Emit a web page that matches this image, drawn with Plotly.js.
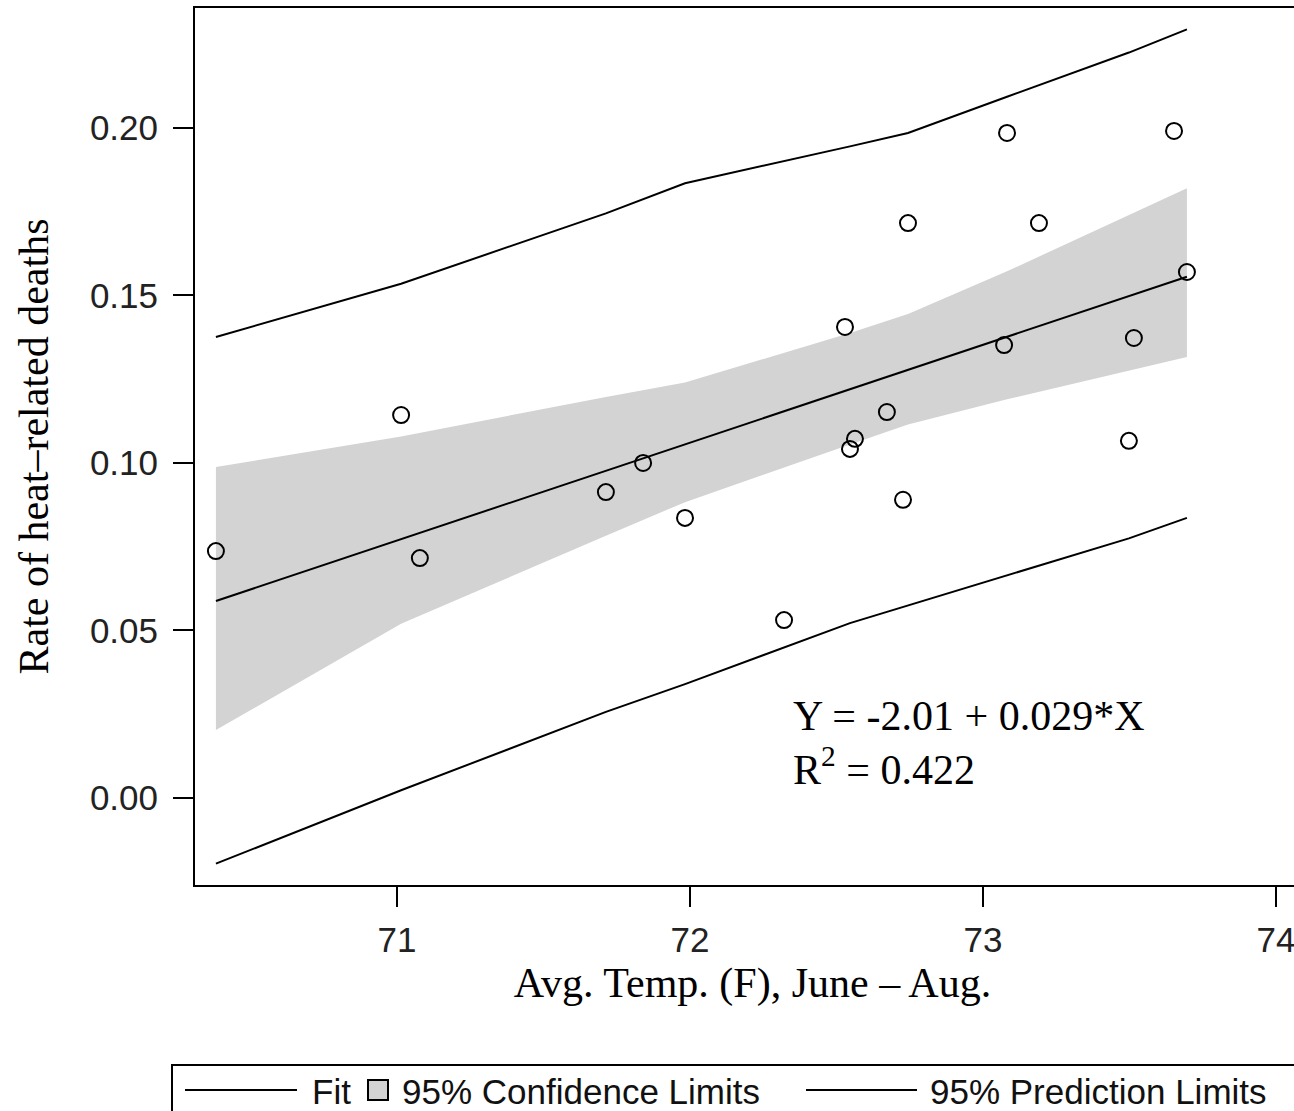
<!DOCTYPE html>
<html>
<head>
<meta charset="utf-8">
<script src="https://cdn.plot.ly/plotly-3.0.1.min.js"></script>
<style>
  html, body { margin: 0; padding: 0; background: #fff; overflow: hidden; }
  #chart { width: 1330px; height: 1111px; }
</style>
</head>
<body>
<div id="chart"></div>
<script>
// Observed points
const obsX = [70.382, 71.014, 71.078, 71.713, 71.840, 71.983, 72.321, 72.529, 72.546, 72.563,
              72.672, 72.727, 72.744, 73.072, 73.082, 73.191, 73.498, 73.515, 73.652, 73.696];
const obsY = [0.0737, 0.1143, 0.0716, 0.0913, 0.1000, 0.0836, 0.0531, 0.1406, 0.1042, 0.1072,
              0.1152, 0.0890, 0.1716, 0.1352, 0.1985, 0.1716, 0.1066, 0.1373, 0.1991, 0.1570];

// Fit line and limits (read at these x positions)
const bandX   = [70.382, 71.014, 71.713, 71.983, 72.546, 72.744, 73.082, 73.498, 73.696];
const fitY    = [0.0588, 0.0773, 0.0977, 0.1055, 0.1220, 0.1278, 0.1376, 0.1498, 0.1556];
const ciUpper = [0.0988, 0.1079, 0.1197, 0.1240, 0.1388, 0.1445, 0.1572, 0.1740, 0.1820];
const ciLower = [0.0203, 0.0520, 0.0783, 0.0883, 0.1055, 0.1115, 0.1190, 0.1275, 0.1316];
const piUpper = [0.1376, 0.1535, 0.1745, 0.1835, 0.1945, 0.1985, 0.2093, 0.2225, 0.2294];
const piLower = [-0.0196, 0.0023, 0.0257, 0.0340, 0.0522, 0.0575, 0.0665, 0.0775, 0.0836];

// Tick labels
const xTicks = [71, 72, 73, 74];
const xTickText = ['71', '72', '73', '74'];
const yTicks = [0.00, 0.05, 0.10, 0.15, 0.20];
const yTickText = ['0.00', '0.05', '0.10', '0.15', '0.20'];

const legendLabels = ['Fit', '95% Confidence Limits', '95% Prediction Limits'];
const eqLine1 = 'Y = -2.01 + 0.029*X';
const eqLine2 = 'R<sup>2</sup> = 0.422';

const SANS = '"Liberation Sans", Arial, sans-serif';
const SERIF = '"Liberation Serif", "Times New Roman", serif';

// layout geometry (pixels)
const W = 1330, H = 1111;
const ML = 195, MR = 20, MT = 8, MB = 226;
const PW = W - ML - MR, PH = H - MT - MB;
const px = v => (v - ML) / PW;          // pixel x -> paper
const py = v => (H - MB - v) / PH;      // pixel y -> paper

const traces = [
  { x: bandX, y: ciLower, type: 'scatter', mode: 'lines', line: { width: 0, color: 'rgba(0,0,0,0)' },
    hoverinfo: 'skip', showlegend: false },
  { x: bandX, y: ciUpper, type: 'scatter', mode: 'lines', fill: 'tonexty', fillcolor: '#d3d3d3',
    line: { width: 0, color: 'rgba(0,0,0,0)' }, showlegend: false, name: legendLabels[1] },
  { x: bandX, y: piUpper, type: 'scatter', mode: 'lines', line: { color: '#000', width: 2 },
    showlegend: false, name: legendLabels[2] },
  { x: bandX, y: piLower, type: 'scatter', mode: 'lines', line: { color: '#000', width: 2 },
    showlegend: false },
  { x: bandX, y: fitY, type: 'scatter', mode: 'lines', line: { color: '#000', width: 2 },
    showlegend: false, name: legendLabels[0] },
  { x: obsX, y: obsY, type: 'scatter', mode: 'markers',
    marker: { symbol: 'circle-open', size: 16, color: '#000', line: { width: 2, color: '#000' } },
    showlegend: false }
];

const layout = {
  width: W, height: H,
  margin: { l: ML, r: MR, t: MT, b: MB, pad: 0 },
  paper_bgcolor: '#fff', plot_bgcolor: '#fff',
  showlegend: false,
  xaxis: {
    range: [70.3106, 70.3106 + PW / 293],
    tickvals: xTicks, ticktext: xTickText,
    ticks: 'outside', ticklen: 20, tickwidth: 2, tickcolor: '#000',
    showline: true, linewidth: 2, linecolor: '#000', mirror: true,
    showgrid: false, zeroline: false,
    tickfont: { family: SANS, size: 35, color: '#222' },
    ticklabelstandoff: 3,
    title: { text: 'Avg. Temp. (F), June \u2013 Aug.', font: { family: SERIF, size: 42, color: '#000' }, standoff: 10 }
  },
  yaxis: {
    range: [-0.02597, 0.2358],
    tickvals: yTicks, ticktext: yTickText,
    ticks: 'outside', ticklen: 20, tickwidth: 2, tickcolor: '#000',
    showline: true, linewidth: 2, linecolor: '#000', mirror: true,
    showgrid: false, zeroline: false,
    tickfont: { family: SANS, size: 35, color: '#222' },
    ticklabelstandoff: 8,
    title: { text: 'Rate of heat\u2013related deaths', font: { family: SERIF, size: 42, color: '#000' }, standoff: 28 }
  },
  annotations: [
    { xref: 'x', yref: 'y', x: 72.345, y: 0.0245, xanchor: 'left', yanchor: 'middle', showarrow: false,
      text: eqLine1, font: { family: SERIF, size: 42, color: '#000' } },
    { xref: 'x', yref: 'y', x: 72.345, y: 0.0093, xanchor: 'left', yanchor: 'middle', showarrow: false,
      text: eqLine2, font: { family: SERIF, size: 42, color: '#000' } },
    { xref: 'paper', yref: 'paper', x: px(310), y: py(1091), xanchor: 'left', yanchor: 'middle', showarrow: false,
      text: legendLabels[0], font: { family: SANS, size: 35, color: '#111' } },
    { xref: 'paper', yref: 'paper', x: px(400), y: py(1091), xanchor: 'left', yanchor: 'middle', showarrow: false,
      text: legendLabels[1], font: { family: SANS, size: 35, color: '#111' } },
    { xref: 'paper', yref: 'paper', x: px(928), y: py(1091), xanchor: 'left', yanchor: 'middle', showarrow: false,
      text: legendLabels[2], font: { family: SANS, size: 35, color: '#111' } }
  ],
  shapes: [
    { type: 'rect', xref: 'paper', yref: 'paper', x0: px(172), x1: px(1325), y0: py(1065), y1: py(1130),
      line: { color: '#000', width: 2 }, fillcolor: 'rgba(0,0,0,0)' },
    { type: 'line', xref: 'paper', yref: 'paper', x0: px(185), x1: px(297), y0: py(1090), y1: py(1090),
      line: { color: '#000', width: 2 } },
    { type: 'rect', xref: 'paper', yref: 'paper', x0: px(368), x1: px(388), y0: py(1080), y1: py(1100),
      line: { color: '#000', width: 2 }, fillcolor: '#d3d3d3' },
    { type: 'line', xref: 'paper', yref: 'paper', x0: px(806), x1: px(917), y0: py(1090), y1: py(1090),
      line: { color: '#000', width: 2 } }
  ]
};

Plotly.newPlot('chart', traces, layout, { staticPlot: true, displayModeBar: false });
</script>
</body>
</html>
